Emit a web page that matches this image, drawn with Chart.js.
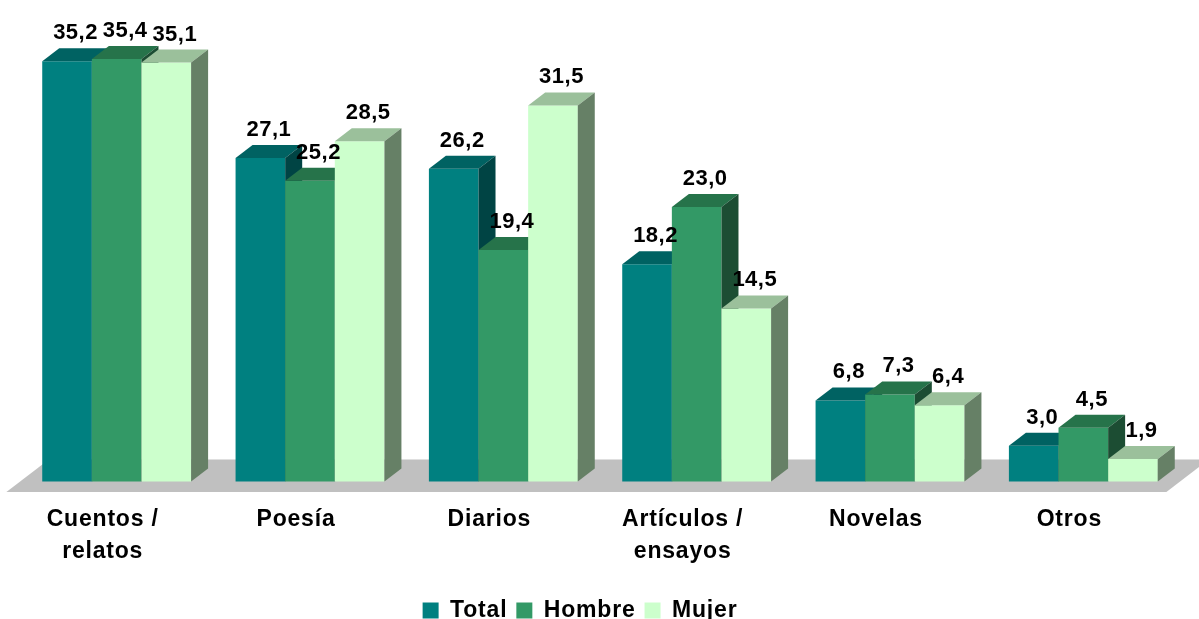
<!DOCTYPE html>
<html lang="es">
<head>
<meta charset="UTF-8">
<title>Géneros leídos</title>
<script src="https://cdn.jsdelivr.net/npm/chart.js@4.4.0/dist/chart.umd.min.js"></script>
<style>
  html, body { margin: 0; padding: 0; background: #fff; }
  #wrap { width: 1199px; height: 619px; }
</style>
</head>
<body>
<div id="wrap"><canvas id="myChart"></canvas></div>
<script>
const categorias = [['Cuentos /', 'relatos'], 'Poesía', 'Diarios', ['Artículos /', 'ensayos'], 'Novelas', 'Otros'];
const total  = [35.2, 27.1, 26.2, 18.2, 6.8, 3.0];
const hombre = [35.4, 25.2, 19.4, 23.0, 7.3, 4.5];
const mujer  = [35.1, 28.5, 31.5, 14.5, 6.4, 1.9];

// profundidad de las barras (desplazamiento de la cara trasera)
const DX = 17, DY = -13;
const FUENTE = 'Liberation Sans, Arial, Helvetica, sans-serif';

const caras = [
  { techo: '#006262', lado: '#004444' },
  { techo: '#26734a', lado: '#1c4d33' },
  { techo: '#9bc09b', lado: '#668066' }
];

function poly(ctx, pts, color) {
  ctx.fillStyle = color;
  ctx.beginPath();
  ctx.moveTo(pts[0][0], pts[0][1]);
  for (let i = 1; i < pts.length; i++) ctx.lineTo(pts[i][0], pts[i][1]);
  ctx.closePath();
  ctx.fill();
}

const barras3d = {
  id: 'barras3d',
  beforeLayout(chart) { chart.ctx.letterSpacing = '0.8px'; },
  afterLayout(chart) {
    // la leyenda va un poco a la izquierda, alineada con el suelo
    chart.legend.left -= 20;
    chart.legend.right -= 20;
  },
  beforeDraw(chart) { chart.ctx.letterSpacing = '0.8px'; },
  beforeDatasetsDraw(chart) {
    const ctx = chart.ctx;
    const { left, right } = chart.chartArea;
    const base = chart.scales.y.getPixelForValue(0);
    ctx.save();
    // suelo gris
    poly(ctx, [
      [left - 0.8 * DX, base - 0.8 * DY],
      [right - 0.8 * DX, base - 0.8 * DY],
      [right + 1.7 * DX, base + 1.7 * DY],
      [left + 1.7 * DX, base + 1.7 * DY]
    ], '#c0c0c0');
    // de izquierda a derecha: cada barra tapa el lado de la anterior
    chart.data.datasets.forEach((ds, i) => {
      const meta = chart.getDatasetMeta(i);
      meta.data.forEach(bar => {
        bar.draw(ctx);
        const l = bar.x - bar.width / 2, r = bar.x + bar.width / 2;
        const t = bar.y, b = bar.base;
        poly(ctx, [[l, t], [r, t], [r + DX, t + DY], [l + DX, t + DY]], caras[i].techo);
        poly(ctx, [[r, t], [r + DX, t + DY], [r + DX, b + DY], [r, b]], caras[i].lado);
      });
    });
    ctx.restore();
    return false;
  },
  afterDraw(chart) {
    const ctx = chart.ctx;
    ctx.save();
    ctx.letterSpacing = '0.5px';
    ctx.font = 'bold 22px ' + FUENTE;
    ctx.fillStyle = '#000';
    ctx.textAlign = 'center';
    ctx.textBaseline = 'alphabetic';
    chart.data.datasets.forEach((ds, i) => {
      chart.getDatasetMeta(i).data.forEach((bar, j) => {
        const txt = ds.data[j].toFixed(1).replace('.', ',');
        ctx.fillText(txt, bar.x + DX / 2, bar.y + DY - 9);
      });
    });
    ctx.restore();
  }
};

new Chart(document.getElementById('myChart'), {
  type: 'bar',
  data: {
    labels: categorias,
    datasets: [
      { label: 'Total', data: total, backgroundColor: '#008080' },
      { label: 'Hombre', data: hombre, backgroundColor: '#339966' },
      { label: 'Mujer', data: mujer, backgroundColor: '#ccffcc' }
    ]
  },
  plugins: [barras3d],
  options: {
    responsive: true,
    maintainAspectRatio: false,
    animation: false,
    datasets: {
      bar: { categoryPercentage: 0.77, barPercentage: 1, borderWidth: 0 }
    },
    layout: { padding: { top: 4, left: 20, right: 19, bottom: -13 } },
    scales: {
      x: {
        grid: { display: false, drawTicks: false },
        border: { display: false },
        ticks: {
          color: '#000',
          padding: 22,
          labelOffset: -14,
          maxRotation: 0,
          autoSkip: false,
          font: { family: FUENTE, size: 23, weight: 'bold', lineHeight: 1.4 }
        }
      },
      y: { display: false, min: 0, max: 40 }
    },
    plugins: {
      tooltip: { enabled: false },
      legend: {
        position: 'bottom',
        labels: {
          color: '#000',
          boxWidth: 16,
          boxHeight: 16,
          padding: 9,
          font: { family: FUENTE, size: 23, weight: 'bold' }
        }
      }
    }
  }
});
</script>
</body>
</html>
